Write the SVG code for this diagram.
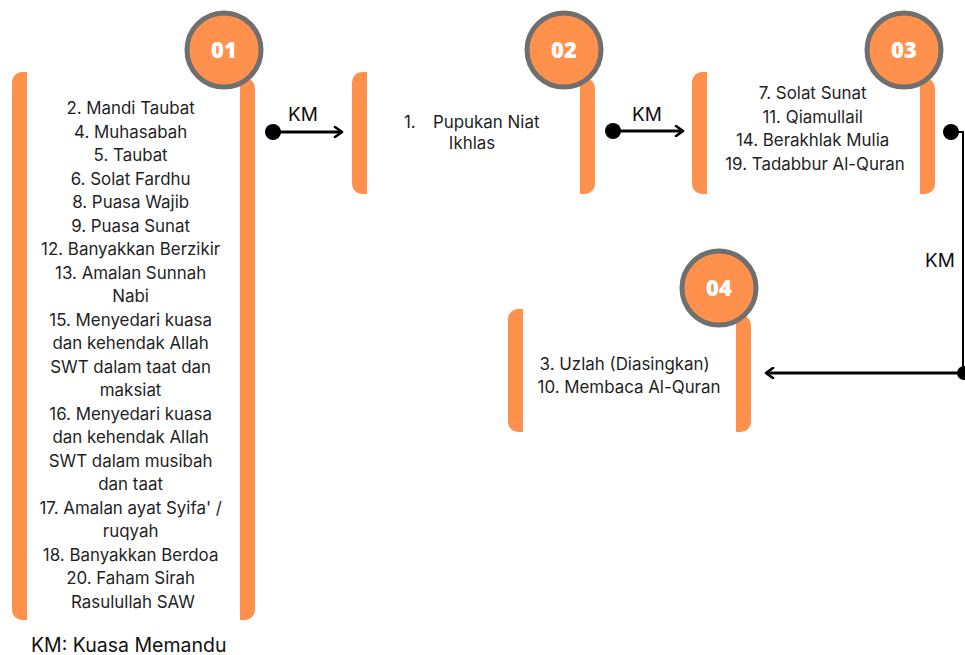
<svg xmlns="http://www.w3.org/2000/svg" width="965" height="655" viewBox="0 0 965 655">
<style>
.bar{fill:#FF914D}
.badge{fill:#FF914D;stroke:#6f6f6f;stroke-width:5}
.num{font-family:"Open Sans","Liberation Sans",sans-serif;font-weight:800;font-size:22px;fill:#ffffff;text-anchor:middle}
.t{font-family:Inter,"Open Sans","Liberation Sans",sans-serif;font-size:16.9px;fill:#1f1f1f;text-anchor:middle}
.lbl{font-family:Inter,"Open Sans","Liberation Sans",sans-serif;font-size:19px;fill:#111;text-anchor:middle}
.ln{fill:none;stroke:#000;stroke-width:3}
</style>
<defs>
<marker id="arr" viewBox="0 0 12 12" refX="10" refY="6" markerWidth="12" markerHeight="12" markerUnits="userSpaceOnUse" orient="auto">
<path d="M3,1 L10,6 L3,11" fill="none" stroke="#000" stroke-width="2.6" stroke-linecap="round" stroke-linejoin="round"/>
</marker>
</defs>
<rect width="965" height="655" fill="#ffffff"/>

<g id="node01">
<path class="bar" d="M27,72 H22 A10,10 0 0 0 12,82 V610 A10,10 0 0 0 22,620 H27 Z"/>
<path class="bar" d="M240,78 H245 A10,10 0 0 1 255,88 V610 A10,10 0 0 1 245,620 H240 Z"/>
<circle class="badge" cx="224" cy="50" r="37"/>
<text class="num" x="224" y="58">01</text>
<text class="t">
<tspan x="133" y="114">2. Mandi Taubat</tspan>
<tspan x="133" y="137.5">4. Muhasabah</tspan>
<tspan x="133" y="161">5. Taubat</tspan>
<tspan x="133" y="184.5">6. Solat Fardhu</tspan>
<tspan x="133" y="208">8. Puasa Wajib</tspan>
<tspan x="133" y="231.5">9. Puasa Sunat</tspan>
<tspan x="133" y="255">12. Banyakkan Berzikir</tspan>
<tspan x="133" y="278.5">13. Amalan Sunnah</tspan>
<tspan x="133" y="302">Nabi</tspan>
<tspan x="133" y="325.5">15. Menyedari kuasa</tspan>
<tspan x="133" y="349">dan kehendak Allah</tspan>
<tspan x="133" y="372.5">SWT dalam taat dan</tspan>
<tspan x="133" y="396">maksiat</tspan>
<tspan x="133" y="419.5">16. Menyedari kuasa</tspan>
<tspan x="133" y="443">dan kehendak Allah</tspan>
<tspan x="133" y="466.5">SWT dalam musibah</tspan>
<tspan x="133" y="490">dan taat</tspan>
<tspan x="133" y="513.5">17. Amalan ayat Syifa' /</tspan>
<tspan x="133" y="537">ruqyah</tspan>
<tspan x="133" y="560.5">18. Banyakkan Berdoa</tspan>
<tspan x="133" y="584">20. Faham Sirah</tspan>
<tspan x="133" y="607.5">Rasulullah SAW</tspan>
</text>
</g>

<g id="node02">
<path class="bar" d="M367,72 H362 A10,10 0 0 0 352,82 V184 A10,10 0 0 0 362,194 H367 Z"/>
<path class="bar" d="M580,78 H585 A10,10 0 0 1 595,88 V184 A10,10 0 0 1 585,194 H580 Z"/>
<circle class="badge" cx="564" cy="50" r="37"/>
<text class="num" x="564" y="58">02</text>
<text class="t" style="text-anchor:start" x="404" y="128">1.</text>
<text class="t" style="text-anchor:start" x="433" y="128">Pupukan Niat</text>
<text class="t" x="472" y="149">Ikhlas</text>
</g>

<g id="node03">
<path class="bar" d="M707,72 H702 A10,10 0 0 0 692,82 V184 A10,10 0 0 0 702,194 H707 Z"/>
<path class="bar" d="M920,78 H925 A10,10 0 0 1 935,88 V184 A10,10 0 0 1 925,194 H920 Z"/>
<circle class="badge" cx="904" cy="50" r="37"/>
<text class="num" x="904" y="58">03</text>
<text class="t">
<tspan x="815" y="99">7. Solat Sunat</tspan>
<tspan x="815" y="122.5">11. Qiamullail</tspan>
<tspan x="815" y="146">14. Berakhlak Mulia</tspan>
<tspan x="815" y="169.5">19. Tadabbur Al-Quran</tspan>
</text>
</g>

<g id="node04">
<path class="bar" d="M523,309 H518 A10,10 0 0 0 508,319 V422 A10,10 0 0 0 518,432 H523 Z"/>
<path class="bar" d="M736,315 H741 A10,10 0 0 1 751,325 V422 A10,10 0 0 1 741,432 H736 Z"/>
<circle class="badge" cx="719" cy="288" r="37"/>
<text class="num" x="719" y="296">04</text>
<text class="t">
<tspan x="627" y="370">3. Uzlah (Diasingkan)</tspan>
<tspan x="629" y="393">10. Membaca Al-Quran</tspan>
</text>
</g>

<g id="connectors">
<circle cx="273" cy="132" r="8" fill="#000"/>
<line class="ln" x1="273" y1="132" x2="342" y2="132" marker-end="url(#arr)"/>
<text class="lbl" x="303" y="121">KM</text>
<circle cx="613" cy="131" r="8" fill="#000"/>
<line class="ln" x1="613" y1="131" x2="683" y2="131" marker-end="url(#arr)"/>
<text class="lbl" x="647" y="121">KM</text>
<circle cx="951" cy="132" r="8" fill="#000"/>
<polyline fill="none" stroke="#000" stroke-width="2" points="951,132 963,132 963,373"/>
<circle cx="964" cy="373" r="7" fill="#000"/>
<line class="ln" x1="963" y1="373" x2="766" y2="373" marker-end="url(#arr)"/>
<text class="lbl" x="940" y="267">KM</text>
</g>

<text class="lbl" style="text-anchor:start;font-size:19.5px" x="31" y="652">KM: Kuasa Memandu</text>
</svg>
